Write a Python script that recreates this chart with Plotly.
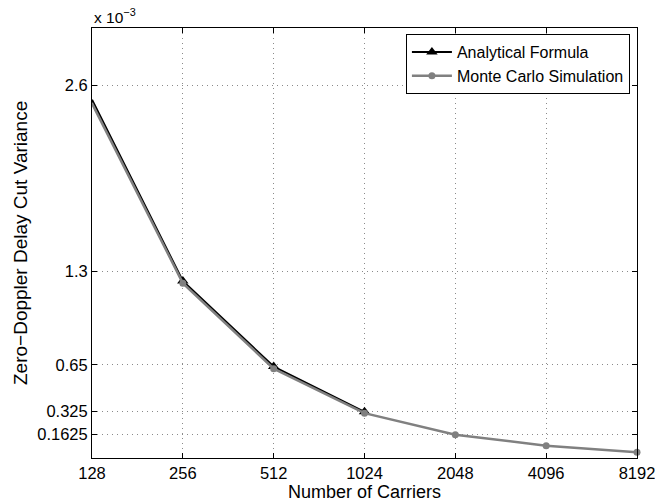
import plotly.graph_objects as go

carriers = [128, 256, 512, 1024, 2048, 4096, 8192]
x_ticks = [128, 256, 512, 1024, 2048, 4096, 8192]
x_tick_labels = ["128", "256", "512", "1024", "2048", "4096", "8192"]

analytical_x = [128, 256, 512, 1024]
analytical_y = [2.50, 1.235, 0.638, 0.322]  # x 1e-3

monte_carlo_y = [2.474, 1.22, 0.623, 0.313, 0.162, 0.086, 0.040]  # x 1e-3

y_ticks = [0.1625, 0.325, 0.65, 1.3, 2.6]
y_tick_labels = ["0.1625", "0.325", "0.65", "1.3", "2.6"]

font = "Liberation Sans, Arial, Helvetica, sans-serif"

fig = go.Figure()
fig.add_trace(go.Scatter(
    x=analytical_x, y=analytical_y, name="Analytical Formula",
    mode="lines+markers", cliponaxis=False,
    line=dict(color="black", width=2),
    marker=dict(symbol="triangle-up", size=10, color="black"),
))
fig.add_trace(go.Scatter(
    x=carriers, y=monte_carlo_y, name="Monte Carlo Simulation",
    mode="lines+markers", cliponaxis=False,
    line=dict(color="#808080", width=2.5),
    marker=dict(symbol="circle", size=7, color="#808080"),
))

axis_common = dict(
    showline=True, linecolor="black", linewidth=1, mirror="ticks",
    ticks="inside", ticklen=5, tickcolor="black",
    showgrid=True, gridcolor="#8a8a8a", gridwidth=1, griddash="1px,4px",
    zeroline=False, ticklabeloverflow="allow", automargin=False,
    tickfont=dict(family=font, size=16.5, color="black"),
)

fig.update_xaxes(
    type="log", range=[2.10721, 3.91339],
    tickvals=x_ticks, ticktext=x_tick_labels, ticklabelstandoff=0,
    **axis_common,
)
fig.update_yaxes(
    range=[0, 3.0],
    tickvals=y_ticks, ticktext=y_tick_labels,
    **axis_common,
)

fig.add_annotation(
    text="Number of Carriers", xref="paper", yref="paper",
    x=0.5, y=0, xanchor="center", yanchor="middle", yshift=-34,
    showarrow=False, font=dict(family=font, size=18, color="black"),
)
fig.add_annotation(
    text="Zero\u2212Doppler Delay Cut Variance", xref="paper", yref="paper",
    x=0, y=0.5, xanchor="center", yanchor="middle", xshift=-72, textangle=-90,
    showarrow=False, font=dict(family=font, size=19, color="black"),
)
fig.add_annotation(
    text="x 10<sup>\u22123</sup>", xref="paper", yref="paper",
    x=0, y=1, xanchor="left", yanchor="bottom", showarrow=False,
    font=dict(family=font, size=15.5, color="black"), yshift=0,
)

fig.update_layout(
    width=655, height=501,
    margin=dict(l=92, r=18, t=28, b=43, autoexpand=False),
    paper_bgcolor="white", plot_bgcolor="white",
    font=dict(family=font, size=16, color="black"),
    legend=dict(
        x=0.987, y=0.986, xanchor="right", yanchor="top",
        bgcolor="white", bordercolor="black", borderwidth=1,
        font=dict(family=font, size=16, color="black"),
        tracegroupgap=0, itemwidth=40,
    ),
)

fig.write_html("out.html")
